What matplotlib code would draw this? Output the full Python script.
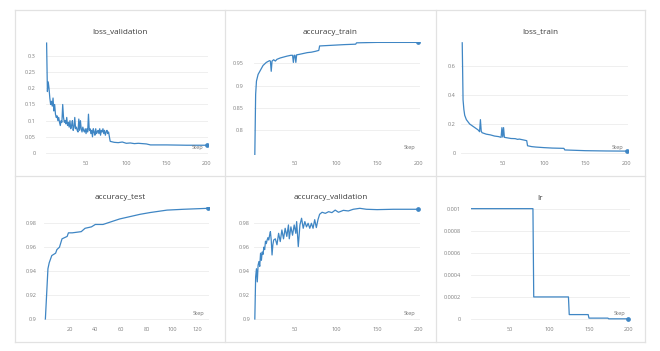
import matplotlib
matplotlib.use('Agg')
import matplotlib.pyplot as plt
from matplotlib.lines import Line2D
from matplotlib.ticker import StrMethodFormatter

# ---------------- data ----------------
loss_val_steps = list(range(1, 81)) + [85, 90, 95, 100, 105, 110, 115, 120, 125,
                                       130, 140, 150, 175, 200]
loss_val_values = [0.34, 0.19, 0.22, 0.2, 0.17, 0.15, 0.16, 0.145, 0.17, 0.13,
                   0.15, 0.12, 0.11, 0.115, 0.1, 0.11, 0.095, 0.085, 0.1, 0.095,
                   0.15, 0.11, 0.095, 0.1, 0.09, 0.11, 0.085, 0.095, 0.08, 0.1,
                   0.075, 0.085, 0.1, 0.07, 0.08, 0.11, 0.075, 0.08, 0.07, 0.065,
                   0.105, 0.07, 0.1, 0.075, 0.065, 0.08, 0.07, 0.065, 0.075, 0.06,
                   0.075, 0.065, 0.12, 0.07, 0.075, 0.06, 0.07, 0.05, 0.075, 0.065,
                   0.055, 0.075, 0.06, 0.065, 0.07, 0.06, 0.075, 0.055, 0.07, 0.065,
                   0.075, 0.06, 0.07, 0.055, 0.065, 0.07, 0.06, 0.065, 0.05, 0.036,
                   0.033, 0.032, 0.034, 0.03, 0.031, 0.029, 0.03, 0.029, 0.028,
                   0.025, 0.025, 0.025, 0.024, 0.024]

acc_train_steps = [1, 2, 3, 5, 8, 11, 15, 19, 20, 21, 22, 24, 26, 28, 32, 36, 40,
                   45, 47, 48, 49, 50, 51, 52, 55, 60, 65, 70, 75, 79, 80, 90,
                   100, 110, 124, 125, 150, 175, 200]
acc_train_values = [0.745, 0.88, 0.91, 0.925, 0.935, 0.945, 0.952, 0.956, 0.955,
                    0.932, 0.955, 0.958, 0.955, 0.959, 0.962, 0.964, 0.966,
                    0.968, 0.968, 0.952, 0.968, 0.968, 0.952, 0.969, 0.970,
                    0.972, 0.974, 0.975, 0.977, 0.979, 0.989, 0.990,
                    0.991, 0.992, 0.993, 0.996, 0.997, 0.997, 0.997]

loss_train_steps = [1, 2, 3, 4, 6, 10, 15, 20, 22, 23, 24, 25, 30, 35, 40, 45,
                    48, 49, 50, 51, 52, 55, 60, 65, 68, 70, 75, 79, 80, 85, 90,
                    100, 110, 124, 125, 150, 175, 200]
loss_train_values = [0.76, 0.366, 0.3, 0.26, 0.23, 0.2, 0.18, 0.16, 0.147, 0.23,
                     0.15, 0.14, 0.13, 0.125, 0.117, 0.113, 0.108, 0.175, 0.11,
                     0.175, 0.108, 0.105, 0.1, 0.099, 0.094, 0.096, 0.09, 0.085,
                     0.05, 0.044, 0.041, 0.037, 0.034, 0.032, 0.021, 0.016,
                     0.014, 0.013]

acc_test_steps = [1, 3, 4, 6, 9, 10, 12, 14, 16, 18, 19, 22, 29, 32, 37, 40, 46,
                  59, 75, 83, 96, 109, 128]
acc_test_values = [0.9, 0.942, 0.947, 0.953, 0.955, 0.958, 0.96, 0.967, 0.968,
                   0.969, 0.972, 0.972, 0.973, 0.9758, 0.977, 0.979, 0.979,
                   0.9836, 0.9875, 0.989, 0.991, 0.9917, 0.9925]

acc_val_steps = [1, 2, 3, 4, 5, 6, 7, 8, 9, 10,
                 11, 12, 13, 14, 15, 16, 17, 18, 19, 20,
                 21, 22, 23, 24, 26, 28, 30, 32, 34, 36,
                 38, 40, 42, 43, 45, 47, 49, 51, 52, 54,
                 56, 58, 60, 62, 64, 66, 68, 70, 72, 74,
                 76, 78, 80, 83, 87, 91, 95, 99, 103, 109,
                 115, 121, 129, 137, 150, 170, 200]
acc_val_values = [0.900, 0.935, 0.942, 0.931, 0.945, 0.948, 0.944, 0.955, 0.949, 0.956,
                  0.954, 0.960, 0.958, 0.965, 0.963, 0.966, 0.968, 0.966, 0.970, 0.973,
                  0.966, 0.9535, 0.962, 0.966, 0.967, 0.962, 0.9716, 0.9647, 0.9744, 0.967,
                  0.9758, 0.969, 0.9786, 0.967, 0.977, 0.970, 0.9786, 0.9716, 0.9814, 0.9605,
                  0.9786, 0.9842, 0.9758, 0.9814, 0.977, 0.980, 0.9758, 0.980, 0.9758, 0.983,
                  0.9764, 0.983, 0.9875, 0.9892, 0.9883, 0.9897, 0.9889, 0.991, 0.9892, 0.9908,
                  0.9903, 0.9917, 0.9925, 0.9917, 0.9914, 0.9917, 0.9917]

lr_steps = [1, 79, 80, 124, 125, 149, 150, 174, 175, 200]
lr_values = [0.001, 0.001, 0.0002, 0.0002, 0.00004, 0.00004, 0.000008, 0.000008,
             0.0000016, 0.0000016]

titles = ['loss_validation', 'accuracy_train', 'loss_train',
          'accuracy_test', 'accuracy_validation', 'lr']

# ---------------- layout (pixels of a 660x351 canvas) ----------------
W, H = 660, 351
line_color = '#3f86c4'
tick_color = '#808080'
grid_color = '#ececec'
frame_color = '#e2e2e2'

fig = plt.figure(figsize=(W / 100, H / 100), dpi=100)
fig.patch.set_facecolor('white')
plt.rcParams['font.family'] = ['Open Sans', 'DejaVu Sans']

# card frame
for x in [15, 225, 436, 645]:
    fig.add_artist(Line2D([x / W, x / W], [1 - 10 / H, 1 - 342 / H],
                          color=frame_color, lw=0.9))
for y in [10, 176, 342]:
    fig.add_artist(Line2D([15 / W, 645 / W], [1 - y / H, 1 - y / H],
                          color=frame_color, lw=0.9))

# (steps, values, box l r t b, xlim, ylim, xticks, yticks, ylabel pad px)
panels = [
    (loss_val_steps, loss_val_values, (45.8, 208, 42, 155), (0, 201.5),
     (-0.0062, 0.3433), [50, 100, 150, 200], [0, 0.05, 0.1, 0.15, 0.2, 0.25, 0.3], 10),
    (acc_train_steps, acc_train_values, (254, 420, 42, 155), (0, 202.4),
     (0.7437, 0.9979), [50, 100, 150, 200], [0.8, 0.85, 0.9, 0.95], 11),
    (loss_train_steps, loss_train_values, (461.4, 628, 42, 155), (0, 201.5),
     (-0.0138, 0.7655), [50, 100, 150, 200], [0, 0.2, 0.4, 0.6], 6),
    (acc_test_steps, acc_test_values, (44.1, 209, 207, 321), (0, 128.8),
     (0.8983, 0.9936), [20, 40, 60, 80, 100, 120], [0.9, 0.92, 0.94, 0.96, 0.98], 8),
    (acc_val_steps, acc_val_values, (254, 420, 207, 321), (0, 202.4),
     (0.8983, 0.9936), [50, 100, 150, 200], [0.9, 0.92, 0.94, 0.96, 0.98], 4),
    (lr_steps, lr_values, (470.6, 630, 207, 321), (0, 202),
     (-0.0000181, 0.001015), [50, 100, 150, 200],
     [0, 0.0002, 0.0004, 0.0006, 0.0008, 0.001], 10),
]
card_centers = [(120, 31.7), (330.5, 32), (540.5, 32),
                (120, 197.7), (330.5, 197.5), (540.5, 198.5)]

for i, (xs, ys, box, xl, yl, xt, yt, ypad) in enumerate(panels):
    l, r, t, b = box
    ax = fig.add_axes([l / W, 1 - b / H, (r - l) / W, (b - t) / H])
    ax.plot(xs, ys, color=line_color, lw=0.9, solid_joinstyle='round')
    ax.plot(xs[-1:], ys[-1:], 'o', color=line_color, ms=2.4)
    ax.set_xlim(*xl)
    ax.set_ylim(*yl)
    ax.set_xticks(xt)
    ax.set_yticks(yt)
    ax.yaxis.set_major_formatter(StrMethodFormatter('{x:g}'))
    ax.tick_params(length=0, labelsize=4.1, labelcolor=tick_color)
    ax.tick_params(axis='x', pad=4.4)
    ax.tick_params(axis='y', pad=ypad * 0.7)
    ax.yaxis.grid(True, color=grid_color, lw=0.6)
    ax.set_axisbelow(True)
    for s in ax.spines.values():
        s.set_visible(False)
    ax.patch.set_alpha(0)
    ax.text(0.935, 0.07, 'Step', transform=ax.transAxes, ha='center',
            va='center', fontsize=4.1, color='#707070')
    cx, cy = card_centers[i]
    fig.text(cx / W, 1 - cy / H, titles[i], ha='center', va='center',
             fontsize=5.9, color='#3c3c3c')

plt.savefig('out.png', dpi=100)
